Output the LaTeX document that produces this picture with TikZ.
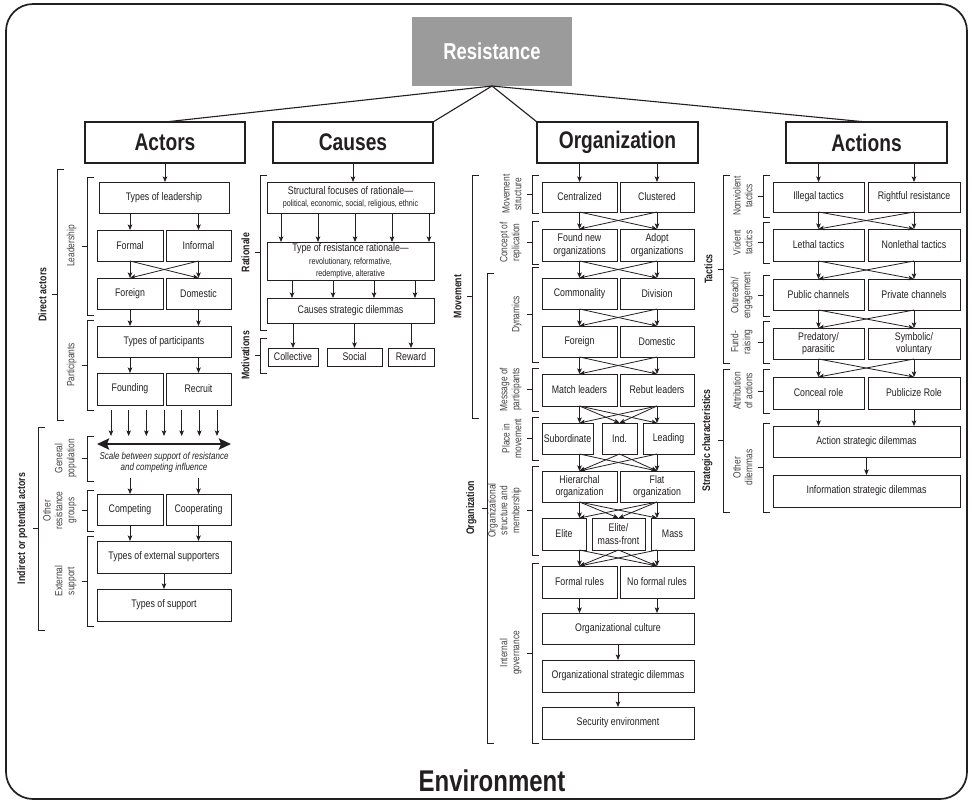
\documentclass[tikz,border=0pt]{standalone}
\usepackage{fontspec}
\setmainfont{Liberation Sans}[FakeStretch=0.8]
\usetikzlibrary{arrows.meta}

\definecolor{ink}{HTML}{231F20}
\definecolor{resgray}{HTML}{9B9B9B}

\tikzset{
    box/.style={draw=ink, line width=0.9pt, inner sep=0pt, outer sep=0pt, align=center, text=ink, font=\fontsize{11}{12.5}\selectfont},
    head/.style={box, line width=1.2pt, font=\bfseries\fontsize{24}{26}\selectfont},
    arr/.style={draw=ink, line width=0.8pt, -{Stealth[length=5.5pt,width=4.5pt,inset=1.2pt]}},
    dbl/.style={draw=ink, line width=2.4pt, {Stealth[length=12pt,width=11pt,inset=2pt]}-{Stealth[length=12pt,width=11pt,inset=2pt]}},
    link/.style={draw=ink, line width=1.1pt},
    bkt/.style={draw=ink, line width=0.8pt},
    lbl/.style={rotate=90, anchor=south, align=center, text=ink!85, font=\fontsize{10.5}{11.8}\selectfont},
    blbl/.style={lbl, text=ink, font=\bfseries\fontsize{11}{13}\selectfont},
}

\newcommand{\smalltxt}{\fontsize{9}{10.5}\selectfont}
% box between corners (x1,y1) and (x2,y2), y counted downwards
\newcommand{\bx}[7][]{\node[box,#1,minimum width={#5-#3},minimum height={#6-#4}] (#2) at ({(#3+#5)/2},{(#4+#6)/2}) {#7};}
% bracket at x from y1 to y2, label on its left
\newcommand{\grp}[6][lbl]{%
    \draw[bkt] (#3+7,#4) -- (#3,#4) -- (#3,#5) -- (#3+7,#5);
    \draw[bkt] (#3,{(#4+#5)/2}) -- (#3-5,{(#4+#5)/2});
    \node[#1] (#2) at (#3-7,{(#4+#5)/2}) {#6};}

\begin{document}
\begin{tikzpicture}[x=1pt, y=-1pt]
    \useasboundingbox (0,0) rectangle (972,804);

    % frame
    \draw[ink, line width=1.7pt, rounded corners=27pt] (6,4) rectangle (967,799);
    \node[text=ink, font=\bfseries\fontsize{30}{32}\selectfont] (env) at (492,781) {Environment};

    % top level
    \bx[fill=resgray, draw=none, text=white, font=\bfseries\fontsize{23}{25}\selectfont]{res}{412}{17}{572}{86}{Resistance}
    \bx[head]{actors}{85}{122}{245}{163}{Actors}
    \bx[head]{causes}{273}{122}{433}{163}{Causes}
    \bx[head]{org}{537}{122}{698}{163}{Organization}
    \bx[head]{actions}{786}{122}{947}{163}{Actions}

    \draw[link] (res.south) -- (actors.north);
    \draw[link] (res.south) -- (causes.north east);
    \draw[link] (res.south) -- (org.north west);
    \draw[link] (res.south) -- (actions.north);

    % actors
    \bx{tlead}{99}{182}{229}{213}{Types of leadership}
    \bx{formal}{97}{230}{163}{261}{Formal}
    \bx{informal}{166}{230}{231}{261}{Informal}
    \bx{aforeign}{97}{278}{163}{309}{Foreign}
    \bx{adomestic}{166}{278}{231}{309}{Domestic}
    \bx{tpart}{97}{326}{231}{357}{Types of participants}
    \bx{founding}{97}{373}{163}{405}{Founding}
    \bx{recruit}{166}{373}{231}{405}{Recruit}
    \coordinate (scl) at (97,444);
    \coordinate (scr) at (231,444);
    \node[text=ink, align=center, font=\itshape\fontsize{10}{11}\selectfont] (scaletxt) at (164,462) {Scale between support of resistance\\and competing influence};
    \coordinate (sclow) at (164,478);
    \bx{competing}{97}{494}{163}{525}{Competing}
    \bx{cooperating}{166}{494}{231}{525}{Cooperating}
    \bx{texts}{97}{541}{231}{573}{Types of external supporters}
    \bx{tsupport}{97}{589}{231}{621}{Types of support}

    \draw[arr] (actors.south) -- (actors.south |- tlead.north);
    \foreach \b in {formal,informal}
        \draw[arr] (\b.north |- tlead.south) -- (\b.north);
    \foreach \s in {formal,informal}
        \foreach \t in {aforeign,adomestic}
            \draw[arr] (\s.south) -- (\t.north);
    \foreach \b in {aforeign,adomestic}
        \draw[arr] (\b.south) -- (\b.south |- tpart.north);
    \foreach \b in {founding,recruit}
        \draw[arr] (\b.north |- tpart.south) -- (\b.north);
    \foreach \i in {0,...,6}
        \draw[arr] ({111+17.67*\i},410) -- ({111+17.67*\i},436);
    \draw[dbl] (scl) -- (scr);
    \foreach \b in {competing,cooperating}
        \draw[arr] (\b.north |- sclow) -- (\b.north);
    \foreach \b in {competing,cooperating}
        \draw[arr] (\b.south) -- (\b.south |- texts.north);
    \draw[arr] (texts.south) -- (tsupport.north);

    % causes
    \bx{sfocus}{267}{182}{434}{213}{Structural focuses of rationale---\\\smalltxt political, economic, social, religious, ethnic}
    \bx{trat}{267}{242}{434}{280}{Type of resistance rationale---\\\smalltxt revolutionary, reformative,\\\smalltxt redemptive, alterative}
    \bx{csd}{267}{298}{434}{323}{Causes strategic dilemmas}
    \bx{collective}{268}{348}{318}{366}{Collective}
    \bx{social}{327}{348}{382}{366}{Social}
    \bx{reward}{388}{348}{434}{366}{Reward}

    \draw[arr] (causes.south) -- (causes.south |- sfocus.north);
    \foreach \dx in {14,51,88,125,162}
        \draw[arr] ([xshift=\dx]sfocus.south west) -- ([xshift=\dx]trat.north west);
    \foreach \dx in {25,66,107,148}
        \draw[arr] ([xshift=\dx]trat.south west) -- ([xshift=\dx]csd.north west);
    \foreach \b in {collective,social,reward}
        \draw[arr] (\b.north |- csd.south) -- (\b.north);

    % organization
    \bx{central}{542}{182}{617}{212}{Centralized}
    \bx{cluster}{620}{182}{694}{212}{Clustered}
    \bx{foundnew}{542}{229}{617}{261}{Found new\\organizations}
    \bx{adopt}{620}{229}{694}{261}{Adopt\\organizations}
    \bx{common}{542}{278}{617}{309}{Commonality}
    \bx{division}{620}{278}{694}{309}{Division}
    \bx{oforeign}{542}{326}{617}{357}{Foreign}
    \bx{odomestic}{620}{326}{694}{357}{Domestic}
    \bx{match}{542}{374}{617}{406}{Match leaders}
    \bx{rebut}{620}{374}{694}{406}{Rebut leaders}
    \bx{subord}{542}{423}{593}{454}{Subordinate}
    \bx{indep}{602}{423}{637}{454}{Ind.}
    \bx{leading}{643}{423}{694}{454}{Leading}
    \bx{hier}{542}{471}{617}{502}{Hierarchal\\organization}
    \bx{flat}{620}{471}{694}{502}{Flat\\organization}
    \bx{elite}{542}{518}{586}{550}{Elite}
    \bx{elmass}{592}{518}{645}{550}{Elite/\\mass-front}
    \bx{mass}{651}{518}{694}{550}{Mass}
    \bx{frules}{542}{566}{617}{598}{Formal rules}
    \bx{nofrules}{620}{566}{694}{598}{No formal rules}
    \bx{oculture}{542}{613}{694}{644}{Organizational culture}
    \bx{osd}{542}{660}{694}{692}{Organizational strategic dilemmas}
    \bx{secenv}{542}{707}{694}{739}{Security environment}

    \foreach \b in {central,cluster}
        \draw[arr] (\b.north |- org.south) -- (\b.north);
    \foreach \s in {central,cluster}
        \foreach \t in {foundnew,adopt}
            \draw[arr] (\s.south) -- (\t.north);
    \foreach \s in {foundnew,adopt}
        \foreach \t in {common,division}
            \draw[arr] (\s.south) -- (\t.north);
    \foreach \s in {common,division}
        \foreach \t in {oforeign,odomestic}
            \draw[arr] (\s.south) -- (\t.north);
    \foreach \s in {oforeign,odomestic}
        \foreach \t in {match,rebut}
            \draw[arr] (\s.south) -- (\t.north);
    \foreach \s in {match,rebut}
        \foreach \t in {subord.north -| central.north, indep.north, leading.north -| cluster.north}
            \draw[arr] (\s.south) -- (\t);
    \foreach \s in {subord.south -| central.south, indep.south, leading.south -| cluster.south}
        \foreach \t in {hier,flat}
            \draw[arr] (\s) -- (\t.north);
    \foreach \s in {hier,flat}
        \foreach \t in {elite.north -| hier.north, elmass.north, mass.north -| flat.north}
            \draw[arr] (\s.south) -- (\t);
    \foreach \s in {elite.south -| hier.south, elmass.south, mass.south -| flat.south}
        \foreach \t in {frules,nofrules}
            \draw[arr] (\s) -- (\t.north);
    \foreach \b in {frules,nofrules}
        \draw[arr] (\b.south) -- (\b.south |- oculture.north);
    \draw[arr] (oculture.south) -- (osd.north);
    \draw[arr] (osd.south) -- (secenv.north);

    % actions
    \bx{illegal}{773}{182}{864}{212}{Illegal tactics}
    \bx{rightful}{868}{182}{960}{212}{Rightful resistance}
    \bx{lethal}{773}{229}{864}{261}{Lethal tactics}
    \bx{nonlethal}{868}{229}{960}{261}{Nonlethal tactics}
    \bx{public}{773}{279}{864}{310}{Public channels}
    \bx{private}{868}{279}{960}{310}{Private channels}
    \bx{predatory}{773}{328}{864}{359}{Predatory/\\parasitic}
    \bx{symbolic}{868}{328}{960}{359}{Symbolic/\\voluntary}
    \bx{conceal}{773}{377}{864}{409}{Conceal role}
    \bx{publicize}{868}{377}{960}{409}{Publicize Role}
    \bx{asd}{773}{426}{960}{457}{Action strategic dilemmas}
    \bx{isd}{773}{475}{960}{507}{Information strategic dilemmas}

    \foreach \b in {illegal,rightful}
        \draw[arr] (\b.north |- actions.south) -- (\b.north);
    \foreach \s in {illegal,rightful}
        \foreach \t in {lethal,nonlethal}
            \draw[arr] (\s.south) -- (\t.north);
    \foreach \s in {lethal,nonlethal}
        \foreach \t in {public,private}
            \draw[arr] (\s.south) -- (\t.north);
    \foreach \s in {public,private}
        \foreach \t in {predatory,symbolic}
            \draw[arr] (\s.south) -- (\t.north);
    \foreach \s in {predatory,symbolic}
        \foreach \t in {conceal,publicize}
            \draw[arr] (\s.south) -- (\t.north);
    \foreach \b in {conceal,publicize}
        \draw[arr] (\b.south) -- (\b.south |- asd.north);
    \draw[arr] (asd.south) -- (isd.north);

    % brackets
    \grp[blbl]{lbDirect}{57}{169}{420}{Direct actors}
    \grp{lbLead}{87}{177}{315}{Leadership}
    \grp{lbPart}{87}{320}{410}{Participants}
    \grp[blbl]{lbIndirect}{38}{427}{630}{Indirect or potential actors}
    \grp{lbGenpop}{87}{436}{481}{General\\population}
    \grp{lbOther}{87}{490}{531}{Other\\resistance\\groups}
    \grp{lbExt}{87}{536}{626}{External\\support}
    \grp[blbl]{lbRat}{260}{175}{330}{Rationale}
    \grp[blbl]{lbMot}{260}{338}{373}{Motivations}
    \grp[blbl]{lbMove}{472}{175}{418}{Movement}
    \grp[blbl]{lbOrg}{487}{273}{743}{Organization}
    \grp{lbMstruct}{532}{175}{213}{Movement\\structure}
    \grp{lbRepl}{532}{221}{264}{Concept of\\replication}
    \grp{lbDyn}{532}{267}{362}{Dynamics}
    \grp{lbMsg}{532}{368}{411}{Message of\\participants}
    \grp{lbPlace}{532}{417}{460}{Place in\\movement}
    \grp{lbOstruct}{532}{466}{555}{Organizational\\structure and\\membership}
    \grp{lbGov}{532}{563}{743}{Internal\\governance}
    \grp[blbl]{lbTact}{723}{175}{363}{Tactics}
    \grp[blbl]{lbStrat}{723}{369}{512}{Strategic characteristics}
    \grp{lbNonv}{763}{175}{217}{Nonviolent\\tactics}
    \grp{lbViol}{763}{222}{263}{Violent\\tactics}
    \grp{lbOut}{763}{275}{316}{Outreach/\\engagement}
    \grp{lbFund}{763}{321}{363}{Fund-\\raising}
    \grp{lbAttr}{763}{369}{413}{Attribution\\of actions}
    \grp{lbOdil}{763}{423}{512}{Other\\dilemmas}
\end{tikzpicture}
\end{document}
